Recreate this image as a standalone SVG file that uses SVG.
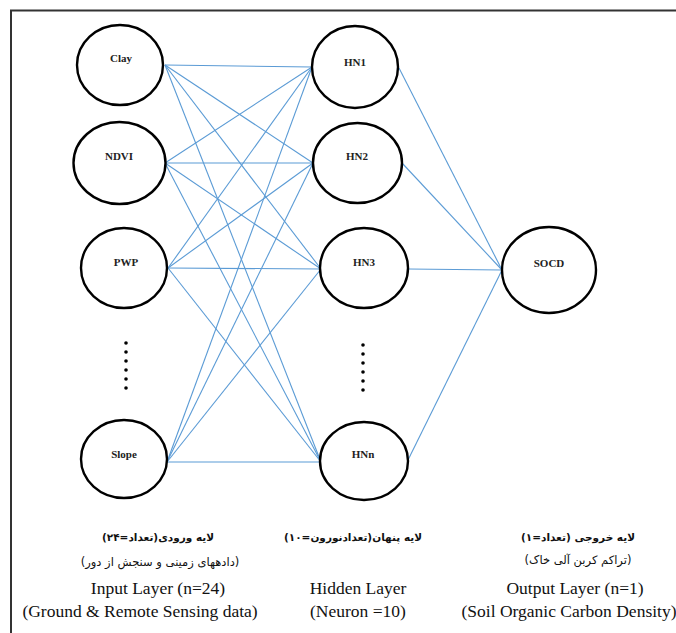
<svg xmlns="http://www.w3.org/2000/svg" width="676" height="633" viewBox="0 0 676 633">
<style>
.node{fill:#fff;stroke:#000;stroke-width:2.4}
.lbl{font-family:'Liberation Serif','Times New Roman','DejaVu Serif',serif;font-weight:bold;font-size:11px;text-anchor:middle;fill:#222}
.conn line{stroke:#5b9bd5;stroke-width:1.1}
.en{font-family:'Liberation Serif','Times New Roman','DejaVu Serif',serif;font-size:17.5px;text-anchor:middle;fill:#111}
.fa{font-family:'DejaVu Sans',sans-serif;font-size:10.5px;font-weight:bold;text-anchor:middle;fill:#111;direction:rtl;unicode-bidi:embed}
.fa2{font-family:'DejaVu Sans',sans-serif;font-size:11.5px;text-anchor:middle;fill:#111;direction:rtl;unicode-bidi:embed}
.dot{fill:#000}
</style>
<rect width="676" height="633" fill="#fff"/>
<path d="M11,633 V10.5 H676" fill="none" stroke="#333" stroke-width="2"/>
<g id="connectors" class="conn">
<line x1="165" y1="65" x2="312" y2="67"/>
<line x1="165" y1="65" x2="313" y2="163"/>
<line x1="165" y1="65" x2="321" y2="269"/>
<line x1="165" y1="65" x2="321" y2="462"/>
<line x1="165" y1="163" x2="312" y2="67"/>
<line x1="165" y1="163" x2="313" y2="163"/>
<line x1="165" y1="163" x2="321" y2="269"/>
<line x1="165" y1="163" x2="321" y2="462"/>
<line x1="168" y1="268" x2="312" y2="67"/>
<line x1="168" y1="268" x2="313" y2="163"/>
<line x1="168" y1="268" x2="321" y2="269"/>
<line x1="168" y1="268" x2="321" y2="462"/>
<line x1="167" y1="462" x2="312" y2="67"/>
<line x1="167" y1="462" x2="313" y2="163"/>
<line x1="167" y1="462" x2="321" y2="269"/>
<line x1="167" y1="462" x2="321" y2="462"/>
<line x1="399" y1="68" x2="502" y2="270"/>
<line x1="402" y1="163" x2="502" y2="270"/>
<line x1="408" y1="269" x2="502" y2="270"/>
<line x1="408" y1="460" x2="502" y2="270"/>
</g>
<g id="clay"><ellipse class="node" cx="120" cy="65" rx="43" ry="40"/><text class="lbl" x="121" y="62">Clay</text></g>
<g id="ndvi"><ellipse class="node" cx="119.5" cy="163" rx="46" ry="41"/><text class="lbl" x="119" y="160">NDVI</text></g>
<g id="pwp"><ellipse class="node" cx="124" cy="268" rx="43" ry="40"/><text class="lbl" x="126" y="266">PWP</text></g>
<g id="input-dots"><circle class="dot" cx="126" cy="343" r="1.8"/><circle class="dot" cx="126" cy="352" r="1.8"/><circle class="dot" cx="126" cy="361" r="1.8"/><circle class="dot" cx="126" cy="370" r="1.8"/><circle class="dot" cx="126" cy="379" r="1.8"/><circle class="dot" cx="126" cy="388" r="1.8"/></g>
<g id="slope"><ellipse class="node" cx="124" cy="459" rx="43" ry="39"/><text class="lbl" x="124" y="458">Slope</text></g>
<g id="hn1"><ellipse class="node" cx="355" cy="67" rx="43" ry="41"/><text class="lbl" x="355" y="66">HN1</text></g>
<g id="hn2"><ellipse class="node" cx="357.5" cy="163" rx="44.5" ry="40"/><text class="lbl" x="357" y="160">HN2</text></g>
<g id="hn3"><ellipse class="node" cx="364" cy="268" rx="44" ry="40"/><text class="lbl" x="364" y="266">HN3</text></g>
<g id="hidden-dots"><circle class="dot" cx="363" cy="345" r="1.8"/><circle class="dot" cx="363" cy="354" r="1.8"/><circle class="dot" cx="363" cy="363" r="1.8"/><circle class="dot" cx="363" cy="372" r="1.8"/><circle class="dot" cx="363" cy="381" r="1.8"/><circle class="dot" cx="363" cy="390" r="1.8"/></g>
<g id="hnn"><ellipse class="node" cx="364" cy="461" rx="44" ry="39"/><text class="lbl" x="363" y="458">HNn</text></g>
<g id="socd"><ellipse class="node" cx="549" cy="270" rx="47" ry="43"/><text class="lbl" x="549" y="267">SOCD</text></g>
<g id="input-caption">
<text class="fa" x="158" y="541">لایه ورودی(تعداد=۲۴)</text>
<text class="fa2" x="160" y="566">(دادههای زمینی و سنجش از دور)</text>
<text class="en" x="158" y="594">Input Layer (n=24)</text>
<text class="en" x="140" y="617">(Ground &amp; Remote Sensing data)</text>
</g>
<g id="hidden-caption">
<text class="fa" x="353" y="541">لایه پنهان(تعدادنورون=۱۰)</text>
<text class="en" x="358" y="594">Hidden Layer</text>
<text class="en" x="358" y="617">(Neuron =10)</text>
</g>
<g id="output-caption">
<text class="fa" x="578" y="541">لایه خروجی (تعداد=۱)</text>
<text class="fa2" x="578" y="564">(تراکم کربن آلی خاک)</text>
<text class="en" x="575" y="594">Output Layer (n=1)</text>
<text class="en" x="569" y="617">(Soil Organic Carbon Density)</text>
</g>
</svg>
